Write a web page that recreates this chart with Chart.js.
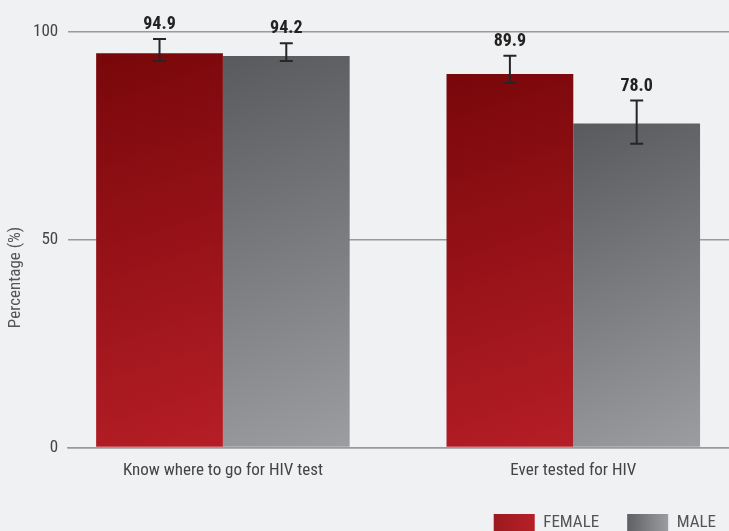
<!DOCTYPE html>
<html>
<head>
<meta charset="utf-8">
<script src="https://cdn.jsdelivr.net/npm/chart.js@4.4.0/dist/chart.umd.min.js"></script>
<style>
    html, body { margin: 0; padding: 0; background: #f0f1f3; }
    #wrap { width: 729px; height: 531px; overflow: hidden; }
</style>
</head>
<body>
<div id="wrap"><canvas id="myChart" width="729" height="531"></canvas></div>
<script>
const categories = ['Know where to go for HIV test', 'Ever tested for HIV'];
const seriesNames = ['FEMALE', 'MALE'];
const femaleValues = [94.9, 89.9];
const maleValues = [94.2, 78.0];
const femaleLow = [93.0, 87.7];
const femaleHigh = [98.3, 94.3];
const maleLow = [93.0, 73.1];
const maleHigh = [97.3, 83.5];
const yTicks = [0, 50, 100];

const fontFamily = "'Liberation Sans Narrow', 'Roboto Condensed', 'DejaVu Sans Condensed', 'Liberation Sans', sans-serif";
const groupPct = 0.7236;

const femaleStops = ['#78070a', '#b61e26'];
const maleStops = ['#595a5d', '#9c9da1'];
const legendStops = [['#9a1a1f', '#b81f27'], ['#5f6064', '#9c9da0']];

const chartCanvas = document.getElementById('myChart').getContext('2d');

function barGradient(context, stops) {
    const chart = context.chart;
    const xScale = chart.scales.x;
    const yScale = chart.scales.y;
    if (context.type !== 'data' || !xScale || !yScale) {
        return stops[1];
    }
    const step = xScale.getPixelForValue(1) - xScale.getPixelForValue(0);
    const half = step * groupPct / 2;
    const center = xScale.getPixelForValue(context.dataIndex);
    const left = context.datasetIndex === 0 ? center - half : center;
    const top = yScale.getPixelForValue(context.raw.y);
    const bottom = yScale.getPixelForValue(0);
    if (![left, half, top, bottom].every(Number.isFinite)) {
        return stops[1];
    }
    const gradient = chart.ctx.createLinearGradient(left, top, left + half, bottom);
    gradient.addColorStop(0, stops[0]);
    gradient.addColorStop(1, stops[1]);
    return gradient;
}

const errorBarPlugin = {
    id: 'errorBars',
    afterDatasetsDraw(chart) {
        const { ctx } = chart;
        const yScale = chart.scales.y;
        const lows = [femaleLow, maleLow];
        const highs = [femaleHigh, maleHigh];
        const values = [femaleValues, maleValues];
        ctx.save();
        chart.data.datasets.forEach((dataset, di) => {
            chart.getDatasetMeta(di).data.forEach((bar, i) => {
                const yLow = yScale.getPixelForValue(lows[di][i]);
                const yHigh = yScale.getPixelForValue(highs[di][i]);
                ctx.strokeStyle = '#262626';
                ctx.lineWidth = 2;
                ctx.beginPath();
                ctx.moveTo(bar.x, yLow);
                ctx.lineTo(bar.x, yHigh);
                ctx.moveTo(bar.x - 6.5, yLow);
                ctx.lineTo(bar.x + 6.5, yLow);
                ctx.moveTo(bar.x - 6.5, yHigh);
                ctx.lineTo(bar.x + 6.5, yHigh);
                ctx.stroke();

                ctx.fillStyle = '#222';
                ctx.font = 'bold 18px ' + fontFamily;
                ctx.textAlign = 'center';
                ctx.textBaseline = 'alphabetic';
                ctx.fillText(values[di][i].toFixed(1), bar.x, yHigh - 10);
            });
        });
        ctx.restore();
    }
};

const yTitlePlugin = {
    id: 'yTitle',
    afterDraw(chart) {
        const { ctx, chartArea } = chart;
        ctx.save();
        ctx.translate(16, (chartArea.top + chart.height) / 2 - 4);
        ctx.rotate(-Math.PI / 2);
        ctx.font = '17px ' + fontFamily;
        ctx.fillStyle = '#555';
        ctx.textAlign = 'center';
        ctx.textBaseline = 'middle';
        ctx.fillText('Percentage (%)', 0, 0);
        ctx.restore();
    }
};

const legendGradientPlugin = {
    id: 'legendGradient',
    beforeDraw(chart) {
        const legend = chart.legend;
        if (!legend || !legend.legendHitBoxes) return;
        const boxWidth = legend.options.labels.boxWidth;
        legend.legendItems.forEach((item, i) => {
            const hit = legend.legendHitBoxes[i];
            if (!hit || !Number.isFinite(hit.left)) return;
            const gradient = chart.ctx.createLinearGradient(hit.left, 0, hit.left + boxWidth, 0);
            gradient.addColorStop(0, legendStops[i][0]);
            gradient.addColorStop(1, legendStops[i][1]);
            item.fillStyle = gradient;
        });
    }
};

const myChart = new Chart(chartCanvas, {
    type: 'bar',
    data: {
        datasets: [{
            label: seriesNames[0],
            data: femaleValues.map((v, i) => ({ x: i, y: v })),
            backgroundColor: ctx => barGradient(ctx, femaleStops),
            borderWidth: 0
        }, {
            label: seriesNames[1],
            data: maleValues.map((v, i) => ({ x: i, y: v })),
            backgroundColor: ctx => barGradient(ctx, maleStops),
            borderWidth: 0
        }]
    },
    options: {
        responsive: false,
        animation: false,
        categoryPercentage: groupPct,
        barPercentage: 1,
        layout: {
            padding: { left: 23, top: 32, right: -15, bottom: -10 }
        },
        scales: {
            x: {
                type: 'linear',
                offset: false,
                min: -0.4416,
                max: 1.4444,
                afterBuildTicks: scale => {
                    scale.ticks = categories.map((c, i) => ({ value: i }));
                },
                afterFit: scale => {
                    scale.height -= 8;
                },
                ticks: {
                    callback: value => categories[value],
                    color: '#444',
                    font: { family: fontFamily, size: 17 },
                    padding: 13,
                    maxRotation: 0
                },
                grid: { display: false, drawTicks: false },
                border: { display: true, color: '#9a9a9a', width: 1.5 }
            },
            y: {
                min: 0,
                max: 100,
                afterBuildTicks: scale => {
                    scale.ticks = yTicks.map(v => ({ value: v }));
                },
                ticks: {
                    color: '#444',
                    font: { family: fontFamily, size: 17 },
                    padding: 10
                },
                grid: { color: '#9a9a9a', lineWidth: 1.5, drawTicks: false },
                border: { display: false }
            }
        },
        plugins: {
            legend: {
                position: 'bottom',
                align: 'end',
                labels: {
                    boxWidth: 41,
                    boxHeight: 17,
                    padding: 28,
                    color: '#555',
                    font: { family: fontFamily, size: 17 }
                }
            },
            tooltip: { enabled: false }
        }
    },
    plugins: [errorBarPlugin, yTitlePlugin, legendGradientPlugin]
});
</script>
</body>
</html>
